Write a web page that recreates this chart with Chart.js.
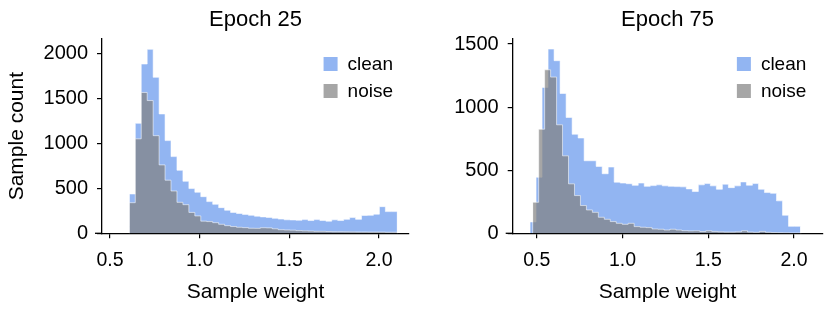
<!DOCTYPE html>
<html>
<head>
<meta charset="utf-8">
<script src="https://cdn.jsdelivr.net/npm/chart.js@4.4.0/dist/chart.umd.min.js"></script>
<style>
  html, body { margin: 0; padding: 0; background: #fff; }
  #wrap { display: flex; width: 830px; height: 312px; }
  .panel { position: relative; width: 415px; height: 312px; }
</style>
</head>
<body>
<div id="wrap">
  <div class="panel"><canvas id="chart25"></canvas></div>
  <div class="panel"><canvas id="chart75"></canvas></div>
</div>
<script>
const SERIES_LABELS = ['clean', 'noise'];
const X_TICKS = [0.5, 1.0, 1.5, 2.0];
const Y_TICKS_25 = [0, 500, 1000, 1500, 2000];
const Y_TICKS_75 = [0, 500, 1000, 1500];

// Epoch 25: both series share the same 45 bins
const BINS_25 = { start: 0.6078, width: 0.0332 };
const CLEAN_25 = [60, 437, 1222, 1881, 2044, 1733, 1326, 1030, 852, 700, 578, 497, 456, 407, 352,
  322, 285, 256, 232, 220, 210, 200, 190, 182, 176, 166, 158, 150, 148, 145,
  152, 142, 152, 142, 135, 150, 142, 155, 175, 155, 198, 200, 212, 296, 241];
const NOISE_25 = [80, 340, 1050, 1565, 1475, 1085, 760, 590, 470, 344, 318, 232, 193, 135, 130,
  118, 100, 85, 75, 67, 63, 56, 55, 62, 60, 50, 40, 37, 35, 30,
  27, 25, 22, 22, 20, 18, 18, 17, 16, 15, 15, 14, 14, 14, 12];

// Epoch 75: each series was binned over its own range
const CLEAN_BINS_75 = { start: 0.4612, width: 0.03504 };
const NOISE_BINS_75 = { start: 0.4767, width: 0.03479 };
const CLEAN_75 = [20, 90, 444, 1156, 1460, 1368, 1108, 918, 785, 755, 575, 575, 530, 472, 525,
  405, 398, 393, 380, 398, 372, 378, 384, 376, 372, 370, 368, 352, 331, 384,
  394, 376, 349, 389, 362, 376, 407, 381, 394, 349, 323, 317, 257, 143, 55];
const NOISE_75 = [25, 246, 825, 1296, 1238, 860, 614, 392, 299, 220, 185, 166, 127, 111, 93,
  79, 71, 79, 53, 48, 45, 34, 32, 26, 32, 26, 21, 19, 20, 14,
  20, 15, 12, 10, 10, 12, 20, 10, 8, 15, 8, 6, 5, 4, 3];

const COLORS = ['rgba(100,149,237,0.7)', 'rgba(128,128,128,0.7)'];
const FONT = "'Liberation Sans', Arial, sans-serif";

// outline of a step-filled histogram: points on the bin edges
function stepPoints(bins, counts) {
  const n = counts.length;
  const edge = i => bins.start + i * bins.width;
  const pts = [{ x: edge(0), y: 0 }];
  counts.forEach((c, i) => pts.push({ x: edge(i), y: c }));
  pts.push({ x: edge(n), y: counts[n - 1] });
  pts.push({ x: edge(n), y: 0 });
  return pts;
}

function histDataset(label, bins, counts, color, order) {
  return {
    label,
    data: stepPoints(bins, counts),
    stepped: 'after',
    fill: 'origin',
    backgroundColor: color,
    borderColor: 'rgba(255,255,255,0.55)',
    borderWidth: 1,
    pointRadius: 0,
    order
  };
}

// legend inside the plot, top right, drawn like matplotlib's
const innerLegend = {
  id: 'innerLegend',
  afterDatasetsDraw(chart) {
    const { ctx, chartArea } = chart;
    ctx.save();
    ctx.font = '19px ' + FONT;
    const textW = Math.max(...SERIES_LABELS.map(l => ctx.measureText(l).width));
    const box = 14;
    const textX = chartArea.right - 16 - textW;
    const boxX = textX - 10 - box;
    SERIES_LABELS.forEach((label, i) => {
      const cy = 64 + i * 27;
      ctx.fillStyle = COLORS[i];
      ctx.fillRect(boxX, cy - box / 2, box, box);
      ctx.fillStyle = '#000';
      ctx.textBaseline = 'middle';
      ctx.fillText(label, textX, cy + 1);
    });
    ctx.restore();
  }
};

// the x spine runs a little past the y spine on the left
const spineStub = {
  id: 'spineStub',
  afterDraw(chart) {
    const { ctx, chartArea } = chart;
    ctx.save();
    ctx.strokeStyle = '#000';
    ctx.lineWidth = 1.3;
    ctx.beginPath();
    ctx.moveTo(chartArea.left - 7, chartArea.bottom);
    ctx.lineTo(chartArea.left, chartArea.bottom);
    ctx.stroke();
    ctx.restore();
  }
};

function makeChart(id, title, datasets, opts) {
  return new Chart(document.getElementById(id), {
    type: 'line',
    data: { datasets },
    plugins: [innerLegend, spineStub],
    options: {
      responsive: true,
      maintainAspectRatio: false,
      animation: false,
      devicePixelRatio: 1,
      layout: { padding: { left: 0, right: opts.padRight, top: 0, bottom: 0 } },
      plugins: {
        legend: { display: false },
        tooltip: { enabled: false },
        title: {
          display: true, text: title, color: '#000', fullSize: false,
          font: { family: FONT, size: 22, weight: 'normal' },
          padding: { top: 7, bottom: 5.6 }
        }
      },
      scales: {
        x: {
          type: 'linear', min: opts.xMin, max: opts.xMax,
          afterBuildTicks: s => { s.ticks = X_TICKS.map(v => ({ value: v })); },
          afterFit: s => { s.height = 78.7; },
          grid: { drawOnChartArea: false, drawTicks: true, tickLength: 5, color: '#000', lineWidth: 1.2 },
          border: { display: true, color: '#000', width: 1.3 },
          ticks: { color: '#000', padding: 11, maxRotation: 0, font: { family: FONT, size: 19.5 },
            callback: v => v.toFixed(1) },
          title: { display: true, text: 'Sample weight', color: '#000',
            font: { family: FONT, size: 21 }, padding: { top: 0, bottom: 7 } }
        },
        y: {
          min: 0, max: opts.yMax,
          afterBuildTicks: s => { s.ticks = opts.yTicks.map(v => ({ value: v })); },
          afterFit: s => { s.width = opts.yWidth; },
          grid: { drawOnChartArea: false, drawTicks: true, tickLength: 5, color: '#000', lineWidth: 1.2 },
          border: { display: true, color: '#000', width: 1.3 },
          ticks: { color: '#000', padding: 9, font: { family: FONT, size: 20 },
            callback: v => String(v) },
          title: { display: opts.yTitle, text: 'Sample count', color: '#000',
            font: { family: FONT, size: 21 }, padding: { top: 5, bottom: 0 } }
        }
      }
    }
  });
}

makeChart('chart25', 'Epoch 25', [
  histDataset(SERIES_LABELS[0], BINS_25, CLEAN_25, COLORS[0], 2),
  histDataset(SERIES_LABELS[1], BINS_25, NOISE_25, COLORS[1], 1)
], { xMin: 0.4554, xMax: 2.1672, yMax: 2159, yTicks: Y_TICKS_25, yWidth: 102, yTitle: true, padRight: 6 });

makeChart('chart75', 'Epoch 75', [
  histDataset(SERIES_LABELS[0], CLEAN_BINS_75, CLEAN_75, COLORS[0], 2),
  histDataset(SERIES_LABELS[1], NOISE_BINS_75, NOISE_75, COLORS[1], 1)
], { xMin: 0.3601, xMax: 2.165, yMax: 1540, yTicks: Y_TICKS_75, yWidth: 97.7, yTitle: false, padRight: 7.7 });
</script>
</body>
</html>
